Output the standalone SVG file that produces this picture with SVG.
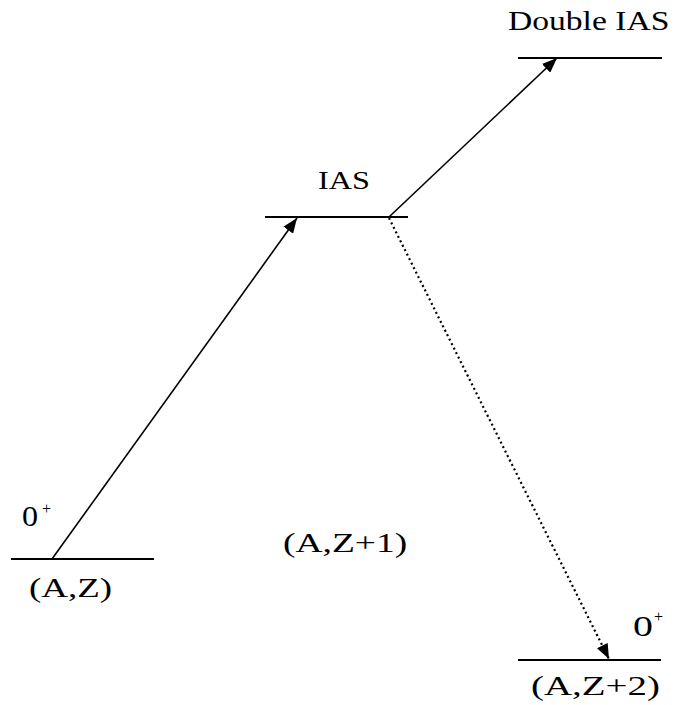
<svg xmlns="http://www.w3.org/2000/svg" width="675" height="705" viewBox="0 0 675 705">
<defs>
<style>
.lvl{stroke:#000;stroke-width:2;fill:none}
.t{font-family:"Liberation Serif","Times New Roman",serif;fill:#000}
.arr{stroke:#000;stroke-width:1.6;fill:none}
.dot{stroke:#000;stroke-width:2.2;fill:none;stroke-dasharray:2 3}
</style>
<marker id="ah" markerUnits="userSpaceOnUse" markerWidth="16" markerHeight="12" refX="15" refY="6" orient="auto">
<path d="M0,0 L15,6 L0,12 z" fill="#000"/>
</marker>
</defs>
<g id="level-AZ">
<line class="lvl" x1="11" y1="559" x2="154" y2="559"/>
<text class="t" font-size="30" transform="translate(22,526) scale(1.07,1)">0</text>
<text class="t" font-size="16" transform="translate(42,514)">+</text>
<text class="t" font-size="28" transform="translate(29,597) scale(1.32,1)">(A,Z)</text>
</g>
<g id="level-IAS">
<line class="lvl" x1="265" y1="217" x2="408" y2="217"/>
<text class="t" font-size="26" transform="translate(318,189) scale(1.24,1)">IAS</text>
</g>
<g id="level-DIAS">
<line class="lvl" x1="518" y1="58" x2="662" y2="58"/>
<text class="t" font-size="28" transform="translate(508,30) scale(1.2,1)">Double IAS</text>
</g>
<g id="label-AZ1">
<text class="t" font-size="28" transform="translate(283,552) scale(1.34,1)">(A,Z+1)</text>
</g>
<g id="level-AZ2">
<line class="lvl" x1="518" y1="660" x2="661" y2="660"/>
<text class="t" font-size="30" transform="translate(633,636) scale(1.33,1)">0</text>
<text class="t" font-size="16" transform="translate(654,622)">+</text>
<text class="t" font-size="28" transform="translate(531,695) scale(1.39,1)">(A,Z+2)</text>
</g>
<g id="connectors">
<line class="arr" x1="52" y1="559" x2="297" y2="218" marker-end="url(#ah)"/>
<line class="arr" x1="389" y1="217" x2="557" y2="58" marker-end="url(#ah)"/>
<line class="dot" x1="389" y1="218" x2="609" y2="659" marker-end="url(#ah)"/>
</g>
</svg>
